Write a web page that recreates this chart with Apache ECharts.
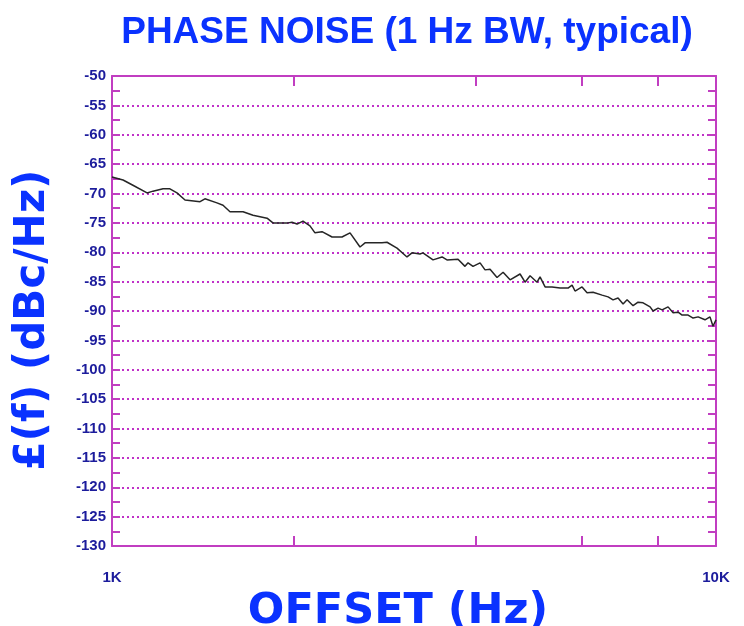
<!DOCTYPE html>
<html>
<head>
<meta charset="utf-8">
<script src="https://cdn.jsdelivr.net/npm/echarts@6/dist/echarts.min.js"></script>
<style>html,body{margin:0;padding:0;background:#fff;}#chart{width:744px;height:626px;}</style>
</head>
<body>
<div id="chart"></div>
<script>
const titleText = 'PHASE NOISE (1 Hz BW, typical)';
const xAxisTitle = 'OFFSET (Hz)';
const yAxisTitle = '£(f) (dBc/Hz)';
const xTickLabels = {1000: '1K', 10000: '10K'};
const xMinorTicks = [2000, 4000, 6000, 8000];

const offsetHz = [
  1000, 1043, 1083, 1143, 1169, 1215, 1247, 1281, 1321, 1399,
  1425, 1492, 1527, 1568, 1648, 1712, 1806, 1847, 1956, 1986,
  2025, 2071, 2127, 2168, 2227, 2314, 2403, 2478, 2574, 2624,
  2799, 2853, 2964, 3079, 3138, 3235, 3272, 3400, 3519, 3586,
  3740, 3841, 3886, 3960, 4068, 4146, 4226, 4340, 4441, 4561,
  4738, 4829, 4922, 5055, 5113, 5212, 5353, 5519, 5689, 5777,
  5843, 6001, 6117, 6258, 6477, 6627, 6754, 6884, 7017, 7125,
  7290, 7430, 7573, 7778, 7867, 8019, 8142, 8330, 8491, 8655,
  8788, 8991, 9164, 9341, 9589, 9774, 9886, 10000
];
const levelDbc = [
  -67.2, -67.7, -68.6, -69.9, -69.6, -69.2, -69.2, -69.9, -71.1, -71.4,
  -70.9, -71.6, -72.0, -73.1, -73.1, -73.7, -74.2, -75.0, -75.0, -74.9,
  -75.2, -74.7, -75.5, -76.7, -76.5, -77.4, -77.4, -76.7, -79.1, -78.4,
  -78.4, -78.3, -79.3, -80.8, -80.1, -80.3, -80.1, -81.3, -80.8, -81.3,
  -81.2, -82.4, -81.8, -82.4, -81.8, -83.0, -82.9, -84.3, -83.4, -84.7,
  -83.7, -85.1, -84.0, -85.1, -84.2, -85.9, -85.9, -86.1, -86.1, -85.6,
  -86.6, -85.9, -86.9, -86.8, -87.3, -87.6, -88.1, -87.8, -88.8, -88.1,
  -89.1, -88.5, -88.6, -89.3, -90.0, -89.5, -89.8, -89.3, -90.3, -90.2,
  -90.7, -90.7, -91.2, -91.0, -91.5, -91.0, -92.6, -91.5
];

const AXIS = '#c13ec1';
const LABEL = '#1c1c9c';
const BLUE = '#0a32ff';

const chart = echarts.init(document.getElementById('chart'), null, {renderer: 'canvas'});
const seriesData = offsetHz.map((f, i) => [f, levelDbc[i]]);

chart.setOption({
  animation: false,
  backgroundColor: '#ffffff',
  title: {
    text: titleText,
    left: 402,
    textAlign: 'center',
    top: 9,
    textStyle: {fontFamily: 'Liberation Sans, Arial, sans-serif', fontWeight: 'bold', fontSize: 37, color: BLUE}
  },
  grid: {left: 112, right: 28, top: 76, bottom: 80, containLabel: false, outerBoundsMode: 'none'},
  xAxis: [
    {
      type: 'log', logBase: 10, min: 1000, max: 10000, position: 'bottom',
      name: xAxisTitle, nameLocation: 'middle', nameGap: 37,
      nameTextStyle: {fontFamily: 'DejaVu Sans, sans-serif', fontWeight: 'bold', fontSize: 43, color: BLUE, padding: [0, 32, 0, 0]},
      axisLine: {show: true, lineStyle: {color: AXIS, width: 2}},
      axisTick: {show: true, inside: true, length: 10, customValues: xMinorTicks, lineStyle: {color: AXIS, width: 2}},
      axisLabel: {show: true, margin: 24, color: LABEL, fontFamily: 'Liberation Sans, Arial, sans-serif', fontWeight: 'bold', fontSize: 15,
        formatter: v => xTickLabels[Math.round(v)] || ''},
      splitLine: {show: false}
    },
    {
      type: 'log', logBase: 10, min: 1000, max: 10000, position: 'top',
      axisLine: {show: true, lineStyle: {color: AXIS, width: 2}},
      axisTick: {show: true, inside: true, length: 10, customValues: xMinorTicks, lineStyle: {color: AXIS, width: 2}},
      axisLabel: {show: false},
      splitLine: {show: false}
    }
  ],
  yAxis: [
    {
      type: 'value', min: -130, max: -50, interval: 5, position: 'left',
      name: yAxisTitle, nameLocation: 'middle', nameRotate: 90, nameGap: 58,
      nameTextStyle: {fontFamily: 'DejaVu Sans, sans-serif', fontWeight: 'bold', fontSize: 42, color: BLUE, padding: [0, 18, 0, 0]},
      axisLine: {show: true, lineStyle: {color: AXIS, width: 2}},
      axisTick: {show: true, inside: true, length: 8, lineStyle: {color: AXIS, width: 2}},
      minorTick: {show: true, splitNumber: 2, length: 8, lineStyle: {color: AXIS, width: 2}},
      axisLabel: {margin: 6, color: LABEL, fontFamily: 'Liberation Sans, Arial, sans-serif', fontWeight: 'bold', fontSize: 15},
      splitLine: {show: true, lineStyle: {color: '#c030c8', width: 2, type: [2, 3]}}
    },
    {
      type: 'value', min: -130, max: -50, interval: 5, position: 'right',
      axisLine: {show: true, lineStyle: {color: AXIS, width: 2}},
      axisTick: {show: true, inside: true, length: 8, lineStyle: {color: AXIS, width: 2}},
      minorTick: {show: true, splitNumber: 2, length: 8, lineStyle: {color: AXIS, width: 2}},
      axisLabel: {show: false},
      splitLine: {show: false}
    }
  ],
  series: [{
    type: 'line',
    xAxisIndex: 0, yAxisIndex: 0,
    data: seriesData,
    showSymbol: false,
    symbol: 'none',
    lineStyle: {color: '#262626', width: 1.5},
    z: 5
  }]
});
</script>
</body>
</html>
